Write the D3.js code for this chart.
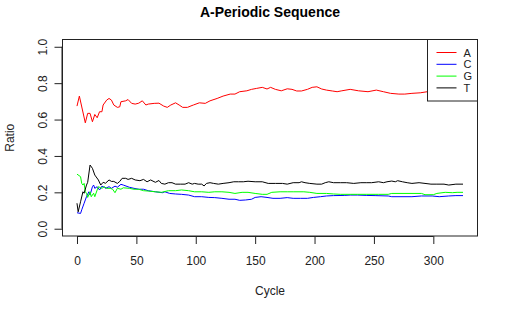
<!DOCTYPE html>
<html><head><meta charset="utf-8">
<script src="https://cdn.jsdelivr.net/npm/d3@7"></script>
<style>
html,body{margin:0;padding:0;background:#fff;}
svg{display:block;font-family:"Liberation Sans",Arial,sans-serif;}
</style></head>
<body><svg id="chart" width="510" height="315"></svg>
<script>
const chartTitle = "A-Periodic Sequence";
const xLabel = "Cycle";
const yLabel = "Ratio";
const xTicks = [0, 50, 100, 150, 200, 250, 300];
const yTicks = [0.0, 0.2, 0.4, 0.6, 0.8, 1.0];
const seriesNames = ["A", "C", "G", "T"];
const seriesColors = ["#ff0000", "#0000ff", "#00ff00", "#000000"];

// [cycle, ratio]
const seriesA = [[0,0.674],[2,0.729],[7,0.582],[9,0.634],[11,0.634],[13,0.588],[15,0.628],[17,0.61],[19,0.643],[21,0.643],[22,0.68],[25,0.707],[27,0.716],[29,0.707],[31,0.68],[34,0.667],[36,0.67],[37,0.698],[41,0.703],[43,0.71],[46,0.689],[49,0.685],[52,0.69],[55,0.703],[58,0.68],[60,0.685],[65,0.689],[69,0.69],[73,0.674],[76,0.667],[79,0.68],[83,0.692],[86,0.68],[89,0.667],[93,0.667],[96,0.675],[98,0.68],[103,0.692],[108,0.689],[112,0.703],[118,0.716],[123,0.729],[129,0.74],[133,0.74],[137,0.753],[143,0.758],[147,0.766],[151,0.771],[156,0.777],[160,0.768],[163,0.777],[167,0.766],[172,0.758],[177,0.769],[181,0.766],[185,0.757],[189,0.757],[194,0.766],[198,0.777],[202,0.78],[206,0.768],[210,0.762],[215,0.757],[219,0.753],[223,0.758],[230,0.766],[237,0.758],[245,0.753],[252,0.762],[258,0.753],[264,0.744],[271,0.74],[276,0.74],[282,0.744],[289,0.747],[295,0.753],[300,0.755],[306,0.76],[312,0.758],[318,0.76],[325,0.76]];
const seriesC = [[0,0.088],[3,0.084],[4,0.104],[6,0.14],[7,0.158],[8,0.176],[10,0.203],[11,0.185],[13,0.231],[14,0.24],[15,0.222],[17,0.231],[19,0.213],[21,0.234],[23,0.228],[24,0.222],[27,0.231],[29,0.222],[32,0.234],[34,0.228],[37,0.244],[39,0.24],[44,0.228],[48,0.222],[52,0.217],[56,0.217],[60,0.209],[66,0.203],[72,0.198],[74,0.203],[78,0.194],[83,0.191],[88,0.189],[94,0.185],[99,0.176],[105,0.176],[111,0.172],[116,0.171],[122,0.167],[128,0.162],[133,0.162],[137,0.156],[142,0.158],[147,0.162],[150,0.172],[155,0.176],[160,0.172],[165,0.167],[171,0.167],[177,0.171],[182,0.167],[188,0.167],[194,0.167],[199,0.172],[205,0.176],[210,0.18],[216,0.182],[225,0.183],[230,0.185],[236,0.185],[244,0.183],[251,0.182],[262,0.18],[265,0.176],[282,0.176],[290,0.18],[299,0.18],[305,0.176],[313,0.18],[319,0.182],[325,0.182]];
const seriesG = [[0,0.30],[3,0.286],[4,0.249],[5,0.24],[6,0.249],[7,0.203],[8,0.195],[9,0.172],[11,0.203],[12,0.176],[14,0.195],[15,0.176],[17,0.213],[18,0.231],[21,0.222],[23,0.231],[25,0.222],[28,0.222],[30,0.217],[32,0.198],[34,0.222],[37,0.217],[39,0.225],[44,0.222],[48,0.217],[52,0.217],[56,0.209],[60,0.207],[66,0.203],[71,0.2],[77,0.209],[83,0.209],[88,0.213],[94,0.209],[99,0.203],[105,0.203],[111,0.2],[116,0.203],[122,0.203],[128,0.2],[133,0.194],[139,0.2],[144,0.2],[150,0.194],[156,0.189],[160,0.189],[164,0.2],[171,0.203],[177,0.203],[182,0.203],[191,0.203],[196,0.2],[202,0.194],[210,0.194],[216,0.191],[222,0.189],[230,0.189],[236,0.189],[244,0.189],[254,0.189],[262,0.189],[265,0.194],[290,0.194],[293,0.187],[300,0.187],[303,0.194],[310,0.2],[316,0.198],[320,0.2],[325,0.2]];
const seriesT = [[0,0.14],[1,0.093],[3,0.148],[5,0.203],[6,0.195],[8,0.24],[9,0.255],[11,0.35],[13,0.332],[15,0.295],[18,0.268],[20,0.24],[22,0.255],[24,0.25],[27,0.268],[29,0.26],[31,0.26],[34,0.249],[36,0.26],[38,0.277],[41,0.277],[43,0.271],[46,0.277],[49,0.268],[53,0.264],[56,0.271],[59,0.258],[62,0.268],[66,0.255],[69,0.265],[71,0.249],[74,0.245],[77,0.253],[80,0.253],[83,0.245],[87,0.245],[91,0.245],[94,0.253],[97,0.245],[99,0.249],[102,0.245],[105,0.245],[107,0.235],[109,0.249],[112,0.253],[115,0.249],[119,0.245],[123,0.249],[128,0.253],[132,0.258],[136,0.258],[140,0.258],[144,0.261],[150,0.258],[156,0.258],[161,0.249],[167,0.249],[173,0.249],[177,0.245],[182,0.253],[187,0.253],[189,0.258],[192,0.253],[196,0.249],[202,0.245],[206,0.245],[209,0.253],[212,0.258],[216,0.253],[222,0.253],[227,0.253],[233,0.249],[239,0.253],[244,0.253],[248,0.253],[254,0.258],[258,0.253],[261,0.258],[265,0.262],[268,0.258],[270,0.264],[274,0.258],[278,0.253],[282,0.249],[288,0.253],[293,0.249],[298,0.245],[303,0.245],[309,0.245],[313,0.24],[319,0.245],[325,0.245]];
const allSeries = [seriesA, seriesC, seriesG, seriesT];

const svg = d3.select("#chart");
svg.append("rect").attr("width",510).attr("height",315).attr("fill","#fff");

const L = 62.5, R = 477.5, T = 39.5, B = 236;
const x = d3.scaleLinear().domain([-12.2, 337.2]).range([L, R]);
const y = d3.scaleLinear().domain([-0.04, 1.04]).range([B, T]);
const ink = "#222";

// title
svg.append("text").attr("x", (L+R)/2).attr("y", 17).attr("text-anchor","middle")
  .attr("font-size", 14).attr("font-weight","bold").attr("fill","#000").text(chartTitle);

// lines
const line = d3.line().x(d => x(d[0])).y(d => y(d[1]));
allSeries.forEach((s, i) => {
  svg.append("path").datum(s).attr("d", line).attr("fill","none")
    .attr("stroke", seriesColors[i]).attr("stroke-width", 1).attr("stroke-linejoin","round");
});

// box
svg.append("rect").attr("x", L).attr("y", T).attr("width", R-L).attr("height", B-T)
  .attr("fill","none").attr("stroke", ink).attr("stroke-width", 1);

// x axis
const xa = svg.append("g").attr("transform", `translate(0,${B})`)
  .call(d3.axisBottom(x).tickValues(xTicks).tickSize(8).tickFormat(d3.format("d")));
xa.select(".domain").remove();
xa.selectAll("line").attr("stroke", ink);
xa.selectAll("text").attr("y", 28.5).attr("dy", 0).attr("font-size", 12)
  .attr("font-family","Liberation Sans, Arial, sans-serif").attr("fill", ink);
xa.append("line").attr("x1", x(xTicks[0])).attr("x2", x(xTicks[xTicks.length-1]))
  .attr("y1", 0.5).attr("y2", 0.5).attr("stroke", ink);

// y axis
const ya = svg.append("g").attr("transform", `translate(${L},0)`)
  .call(d3.axisLeft(y).tickValues(yTicks).tickSize(8).tickFormat(d3.format(".1f")));
ya.select(".domain").remove();
ya.selectAll("line").attr("stroke", ink);
ya.selectAll("text").attr("transform","rotate(-90)").attr("x", 0).attr("y", -16)
  .attr("dy", 0).attr("text-anchor","middle").attr("font-size", 12)
  .attr("font-family","Liberation Sans, Arial, sans-serif").attr("fill", ink);
ya.append("line").attr("y1", y(yTicks[0])).attr("y2", y(yTicks[yTicks.length-1]))
  .attr("x1", -0.5).attr("x2", -0.5).attr("stroke", ink);

// axis labels
svg.append("text").attr("x", (L+R)/2).attr("y", 295).attr("text-anchor","middle")
  .attr("font-size", 12).attr("fill", ink).text(xLabel);
svg.append("text").attr("transform", `translate(14,${(T+B)/2}) rotate(-90)`)
  .attr("text-anchor","middle").attr("font-size", 12).attr("fill", ink).text(yLabel);

// legend
const lg = svg.append("g");
lg.append("rect").attr("x", 427.5).attr("y", T).attr("width", R-427.5).attr("height", 61.5)
  .attr("fill","#fff").attr("stroke", ink).attr("stroke-width", 1);
seriesNames.forEach((n, i) => {
  const yy = 52.5 + i*11.8;
  lg.append("line").attr("x1", 436.5).attr("x2", 456.5).attr("y1", yy).attr("y2", yy)
    .attr("stroke", seriesColors[i]).attr("stroke-width", 1);
  lg.append("text").attr("x", 463.5).attr("y", yy + 4).attr("font-size", 11)
    .attr("fill", ink).text(n);
});
</script></body></html>
